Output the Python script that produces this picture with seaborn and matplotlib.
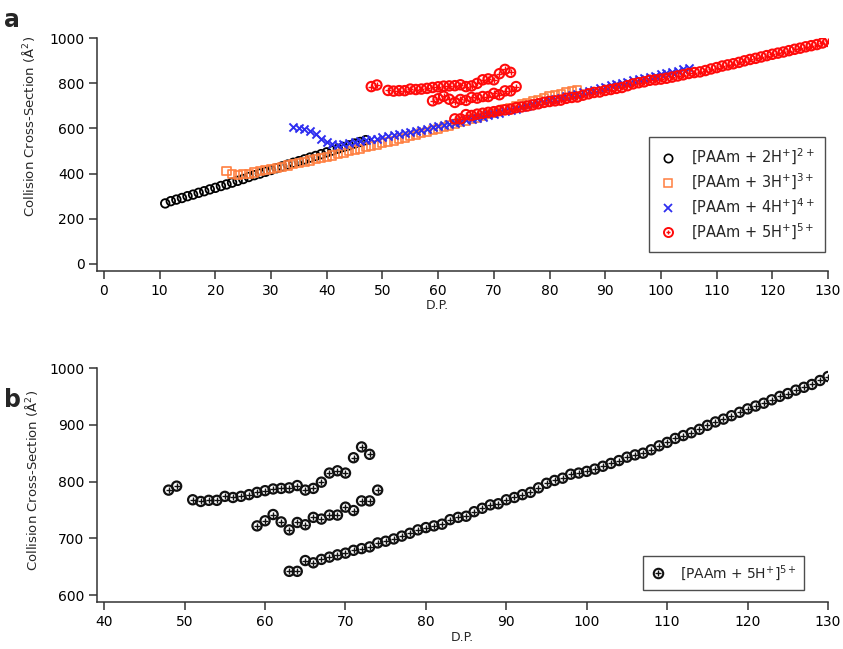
import numpy as np
import pandas as pd
import matplotlib
matplotlib.use("Agg")
import matplotlib.pyplot as plt
import seaborn as sns
from matplotlib.lines import Line2D
from matplotlib.legend_handler import HandlerTuple

# ---------------- data ----------------
dp_2 = list(range(11, 48))
ccs_2 = [268, 278, 285, 292, 300, 307, 315, 322, 330, 337, 345, 352, 360, 368, 376, 385,
         393, 400, 408, 416, 424, 432, 440, 448, 455, 463, 471, 478, 486, 494, 502, 510,
         518, 525, 533, 540, 548]

dp_3 = list(range(22, 86))
ccs_3 = [412, 398, 395, 397, 400, 405, 410, 415, 420, 425, 430, 436, 441, 447, 452, 458,
         463, 469, 474, 480, 486, 492, 498, 504, 510, 516, 522, 528, 534, 540, 546, 552,
         558, 565, 571, 578, 585, 592, 599, 606, 613, 620, 627, 634, 641, 648, 656, 663,
         670, 677, 684, 692, 699, 706, 713, 720, 727, 734, 741, 747, 753, 759, 765, 771]

dp_4 = list(range(34, 106))
ccs_4 = [605, 603, 598, 588, 575, 555, 540, 530, 525, 530, 535, 539, 543, 547, 551, 555,
         560, 565, 569, 574, 579, 584, 589, 594, 599, 604, 609, 614, 619, 625, 630, 636,
         641, 647, 652, 658, 664, 670, 676, 682, 688, 694, 700, 706, 712, 718, 724, 730,
         736, 742, 748, 754, 760, 766, 772, 778, 784, 790, 796, 801, 807, 812, 818, 823,
         829, 834, 840, 845, 851, 856, 861, 866]

dp_5_upper = [48, 49] + list(range(51, 74))
ccs_5_upper = [785, 792, 768, 765, 767, 767, 774, 772, 774, 777, 781, 784, 787, 788, 789,
               793, 785, 788, 799, 815, 819, 815, 842, 861, 848]
dp_5_mid = list(range(59, 75))
ccs_5_mid = [722, 731, 742, 729, 715, 728, 724, 737, 734, 741, 741, 755, 749, 766, 766, 785]
dp_5_low = list(range(63, 131))
ccs_5_low = [642, 642, 661, 657, 663, 667, 671, 674, 679, 682, 685, 692, 695, 699, 704, 709,
             715, 719, 722, 725, 733, 737, 739, 747, 753, 759, 761, 768, 772, 777, 781, 789,
             797, 802, 806, 813, 815, 818, 822, 827, 832, 837, 843, 847, 850, 856, 863, 869,
             876, 881, 886, 892, 899, 905, 910, 916, 922, 928, 933, 938, 944, 950, 955, 961,
             966, 971, 978, 985]

labels = [r"[PAAm + 2H$^{+}$]$^{2+}$", r"[PAAm + 3H$^{+}$]$^{3+}$",
          r"[PAAm + 4H$^{+}$]$^{4+}$", r"[PAAm + 5H$^{+}$]$^{5+}$"]
xticks_a = list(range(0, 131, 10))
yticks_a = [0, 200, 400, 600, 800, 1000]
xticks_b = list(range(40, 131, 10))
yticks_b = [600, 700, 800, 900, 1000]

df5 = pd.DataFrame({"dp": dp_5_upper + dp_5_mid + dp_5_low,
                    "ccs": ccs_5_upper + ccs_5_mid + ccs_5_low})
df2 = pd.DataFrame({"dp": dp_2, "ccs": ccs_2})
df3 = pd.DataFrame({"dp": dp_3, "ccs": ccs_3})
df4 = pd.DataFrame({"dp": dp_4, "ccs": ccs_4})

# ---------------- style ----------------
sns.set_theme(style="ticks")
plt.rcParams["font.family"] = ["DejaVu Sans"]
plt.rcParams["axes.edgecolor"] = "#333333"
plt.rcParams["axes.linewidth"] = 1.1
plt.rcParams["xtick.color"] = "#333333"
plt.rcParams["ytick.color"] = "#333333"
plt.rcParams["xtick.labelcolor"] = "black"
plt.rcParams["ytick.labelcolor"] = "black"

ORANGE = "#FF7F40"
BLUE = "#2E2EF0"
RED = "#FF0A0A"

fig = plt.figure(figsize=(8.43, 6.49), dpi=100)
ax_a = fig.add_axes([97/843, 1-271/649, 731/843, 233/649])
ax_b = fig.add_axes([97/843, 1-602/649, 731/843, 234/649])

# ---- panel a ----
sns.scatterplot(data=df2, x="dp", y="ccs", ax=ax_a, marker="o", s=38,
                facecolors="none", edgecolor="black", linewidth=1.3, zorder=3)
sns.scatterplot(data=df3, x="dp", y="ccs", ax=ax_a, marker="s", s=34,
                facecolors="none", edgecolor=ORANGE, linewidth=1.2, zorder=3)
sns.scatterplot(data=df4, x="dp", y="ccs", ax=ax_a, marker="x", s=34,
                color=BLUE, linewidth=1.4, zorder=4)
sns.scatterplot(data=df5, x="dp", y="ccs", ax=ax_a, marker="o", s=46,
                facecolors="none", edgecolor=RED, linewidth=1.5, zorder=5)
sns.scatterplot(data=df5, x="dp", y="ccs", ax=ax_a, marker="+", s=14,
                color=RED, linewidth=1.0, zorder=5)

ax_a.set_xlim(-1.25, 130)
ax_a.set_ylim(-31, 1000)
ax_a.set_xticks(xticks_a)
ax_a.set_yticks(yticks_a)
ax_a.set_xlabel("D.P.", fontsize=9, x=0.465, labelpad=1)
ax_a.set_ylabel("Collision Cross-Section (Å$^2$)", fontsize=9.5, labelpad=9, y=0.62)

h2 = Line2D([], [], marker="o", ls="", mfc="none", mec="black", ms=6, mew=1.2)
h3 = Line2D([], [], marker="s", ls="", mfc="none", mec=ORANGE, ms=6, mew=1.1)
h4 = Line2D([], [], marker="x", ls="", color=BLUE, ms=6, mew=1.3)
h5a = Line2D([], [], marker="o", ls="", mfc="none", mec=RED, ms=6.5, mew=1.4)
h5b = Line2D([], [], marker="+", ls="", color=RED, ms=3.5, mew=1.0)
leg_a = ax_a.legend([h2, h3, h4, (h5a, h5b)], labels,
                    handler_map={tuple: HandlerTuple(ndivide=1, pad=0)},
                    loc="upper left", bbox_to_anchor=(649/843, 1-137/649),
                    bbox_transform=fig.transFigure, frameon=True, fancybox=False,
                    edgecolor="#222222", fontsize=10.5, handlelength=1.2,
                    handletextpad=1.0, labelspacing=0.32, borderpad=0.7,
                    borderaxespad=0)
leg_a.get_frame().set_linewidth(1.0)

# ---- panel b ----
sns.scatterplot(data=df5, x="dp", y="ccs", ax=ax_b, marker="o", s=44,
                facecolors="none", edgecolor="#111111", linewidth=1.6, zorder=3)
sns.scatterplot(data=df5, x="dp", y="ccs", ax=ax_b, marker="+", s=16,
                color="#111111", linewidth=1.0, zorder=3)
ax_b.set_xlim(39.1, 130)
ax_b.set_ylim(588, 1000)
ax_b.set_xticks(xticks_b)
ax_b.set_yticks(yticks_b)
ax_b.set_xlabel("D.P.", fontsize=9, labelpad=2)
ax_b.set_ylabel("Collision Cross-Section (Å$^2$)", fontsize=9.5, labelpad=7, y=0.52)

hb1 = Line2D([], [], marker="o", ls="", mfc="none", mec="#111111", ms=6.8, mew=1.5)
hb2 = Line2D([], [], marker="+", ls="", color="#111111", ms=4, mew=1.0)
leg_b = ax_b.legend([(hb1, hb2)], [labels[3]],
                    handler_map={tuple: HandlerTuple(ndivide=1, pad=0)},
                    loc="upper left", bbox_to_anchor=(643/843, 1-556/649),
                    bbox_transform=fig.transFigure, frameon=True, fancybox=False,
                    edgecolor="#222222", fontsize=10, handlelength=1.2,
                    handletextpad=1.0, borderpad=0.5, borderaxespad=0)
leg_b.get_frame().set_linewidth(1.0)

for ax in (ax_a, ax_b):
    sns.despine(ax=ax)
    ax.tick_params(axis="both", direction="out", length=6, width=1.1,
                   labelsize=10, pad=3)

fig.text(4/843, 1-20/649, "a", fontsize=17, fontweight="bold", va="center")
fig.text(4/843, 1-400/649, "b", fontsize=17, fontweight="bold", va="center")

fig.savefig("out.png", dpi=100)
